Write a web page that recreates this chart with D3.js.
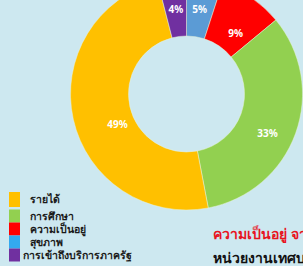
<!DOCTYPE html>
<html lang="th">
<head>
<meta charset="utf-8">
<style>
body {
  margin: 0;
  background: #cde8f0;
  overflow: hidden;
}
svg {
  display: block;
  font-family: "Noto Sans", "DejaVu Sans", sans-serif;
}
.pct {
  fill: #fff;
  font-size: 10px;
  font-weight: bold;
  text-anchor: middle;
}
.legend text {
  fill: #1a1a1a;
  font-size: 10.5px;
  font-weight: bold;
}
</style>
</head>
<body>
<script src="https://cdn.jsdelivr.net/npm/d3@7"></script>
<script>

var width = 303,
    height = 266;

// slices, clockwise from 12 o'clock
var categories = ["สุขภาพ", "ความเป็นอยู่", "การศึกษา", "รายได้", "การเข้าถึงบริการภาครัฐ"];
var values = [5, 9, 33, 49, 4];
var colors = ["#5b9bd5", "#ff0000", "#92d050", "#ffc000", "#7030a0"];

// legend order as it appears in the picture
var legendOrder = ["รายได้", "การศึกษา", "ความเป็นอยู่", "สุขภาพ", "การเข้าถึงบริการภาครัฐ"];
var legendColors = ["#ffc000", "#92d050", "#ff0000", "#33a9ef", "#7030a0"];

var caption = ["ความเป็นอยู่ จาก", "หน่วยงานเทศบาล"];

var svg = d3.select("body").append("svg")
    .attr("width", width)
    .attr("height", height);

var cx = 186.5, cy = 94,
    outerR = 116, innerR = 58;

var pie = d3.pie()
    .sort(null)
    .value(function(d) { return d; });

var arc = d3.arc()
    .innerRadius(innerR)
    .outerRadius(outerR);

var labelArc = d3.arc()
    .innerRadius(84)
    .outerRadius(84);

// the original labels sit a bit off the centroid, like excel puts them
var labelNudge = {
  "สุขภาพ": [0, -1.5],
  "ความเป็นอยู่": [2, 9],
  "การศึกษา": [2, 11],
  "รายได้": [13, 12],
  "การเข้าถึงบริการภาครัฐ": [0, -1.5]
};

var g = svg.append("g")
    .attr("transform", "translate(" + cx + "," + cy + ")");

var arcs = pie(values);

g.selectAll("path")
    .data(arcs)
  .enter().append("path")
    .attr("d", arc)
    .attr("fill", function(d, i) { return colors[i]; })
    .attr("stroke", "#e6f2d8")
    .attr("stroke-width", 0.5);

g.selectAll("text.pct")
    .data(arcs)
  .enter().append("text")
    .attr("class", "pct")
    .attr("transform", function(d, i) {
      var c = labelArc.centroid(d),
          n = labelNudge[categories[i]];
      return "translate(" + (c[0] + n[0]) + "," + (c[1] + n[1]) + ")";
    })
    .attr("dy", "0.35em")
    .text(function(d) { return d.data + "%"; });

// legend
var legendY = d3.scalePoint()
    .domain(legendOrder)
    .range([203, 255]);

var legend = svg.append("g").attr("class", "legend");

var item = legend.selectAll("g")
    .data(legendOrder)
  .enter().append("g")
    .attr("transform", function(d, i) {
      // first row sits a little higher than the tight stack below it
      return "translate(9," + (legendY(d) + (i === 0 ? -3.5 : 0)) + ")";
    });

item.append("rect")
    .attr("y", function(d, i) { return i === 0 ? -7.5 : -6.5; })
    .attr("width", 11)
    .attr("height", function(d, i) { return i === 0 ? 15 : 13; })
    .attr("fill", function(d, i) { return legendColors[i]; });

item.append("text")
    .attr("x", function(d, i) { return i === 4 ? 14 : 21; })
    .attr("y", 0)
    .attr("dy", "0.35em")
    .text(function(d) { return d; });

// caption, cut by the right edge
svg.append("text")
    .attr("x", 213)
    .attr("y", 239)
    .attr("fill", "#e8141e")
    .attr("font-size", 14)
    .attr("font-weight", "bold")
    .text(caption[0]);

svg.append("text")
    .attr("x", 213)
    .attr("y", 263)
    .attr("fill", "#111")
    .attr("font-size", 14)
    .attr("font-weight", "bold")
    .text(caption[1]);

</script>
</body>
</html>
